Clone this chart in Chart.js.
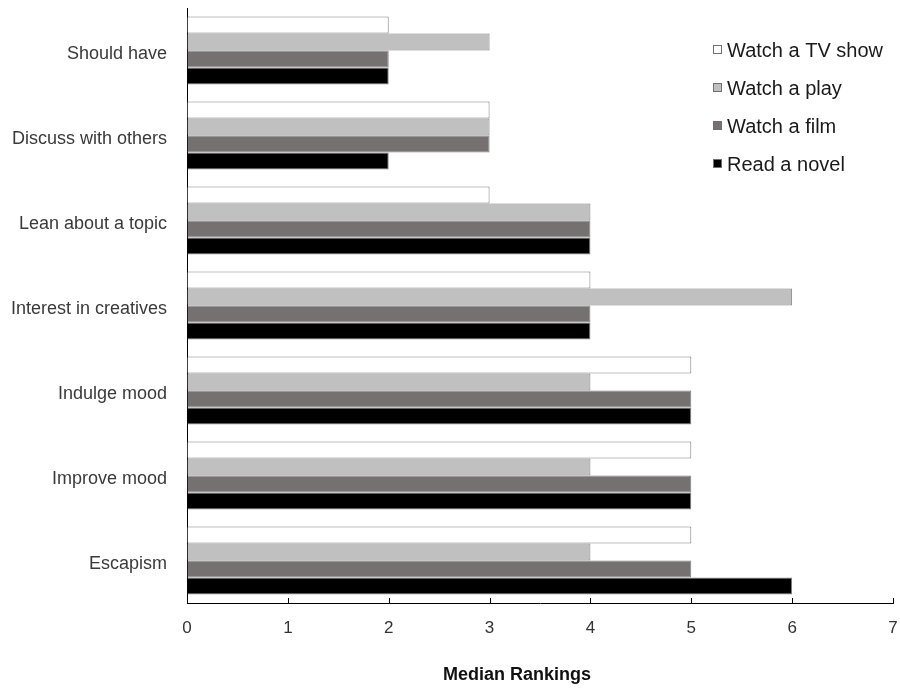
<!DOCTYPE html>
<html>
<head>
<meta charset="utf-8">
<script src="https://cdn.jsdelivr.net/npm/chart.js@4/dist/chart.umd.min.js"></script>
<style>
  html, body { margin: 0; padding: 0; background: #fff; }
  #wrap { width: 900px; height: 691px; position: relative; }
</style>
</head>
<body>
<div id="wrap"><canvas id="c" width="900" height="691"></canvas></div>
<script>
const categories = ["Should have", "Discuss with others", "Lean about a topic", "Interest in creatives", "Indulge mood", "Improve mood", "Escapism"];
const seriesNames = ["Watch a TV show", "Watch a play", "Watch a film", "Read a novel"];
const tvShow = [2, 3, 3, 4, 5, 5, 5];
const play   = [3, 3, 4, 6, 4, 4, 4];
const film   = [2, 3, 4, 4, 5, 5, 5];
const novel  = [2, 2, 4, 4, 5, 5, 6];
const xTicks = [0, 1, 2, 3, 4, 5, 6, 7];
const xTitle = "Median Rankings";

const fills = ["#ffffff", "#c0c0c0", "#757170", "#000000"];
const seriesValues = [tvShow, play, film, novel];

const FONT = "'Liberation Sans', Arial, sans-serif";

const tickMarks = {
  id: 'tickMarks',
  afterDraw(chart) {
    const ctx = chart.ctx;
    const xs = chart.scales.x;
    const y0 = chart.chartArea.bottom;
    ctx.save();
    ctx.strokeStyle = '#000';
    ctx.lineWidth = 1;
    xTicks.forEach(v => {
      const px = Math.round(xs.getPixelForValue(v)) + 0.5;
      ctx.beginPath();
      ctx.moveTo(px, y0);
      ctx.lineTo(px, y0 - 5);
      ctx.stroke();
    });
    // axis title
    ctx.font = "bold 18px " + FONT;
    ctx.fillStyle = '#111';
    ctx.textAlign = 'center';
    ctx.textBaseline = 'middle';
    ctx.fillText(xTitle, 517, 675);
    ctx.restore();
  }
};

const customLegend = {
  id: 'customLegend',
  afterDraw(chart) {
    const ctx = chart.ctx;
    ctx.save();
    ctx.font = "20px " + FONT;
    ctx.textBaseline = 'middle';
    ctx.textAlign = 'left';
    const x0 = 713, ys = [50, 88, 126, 164];
    seriesNames.forEach((n, i) => {
      ctx.fillStyle = fills[i];
      ctx.fillRect(x0, ys[i] - 5, 9, 9);
      ctx.strokeStyle = '#707070';
      ctx.lineWidth = 1;
      ctx.strokeRect(x0 + 0.5, ys[i] - 4.5, 8, 8);
      ctx.fillStyle = '#1a1a1a';
      ctx.fillText(n, x0 + 14, ys[i] + 1);
    });
    ctx.restore();
  }
};

function zeroPad(scale) {
  scale.paddingTop = 0; scale.paddingBottom = 0;
  scale.paddingLeft = 0; scale.paddingRight = 0;
}

new Chart(document.getElementById('c'), {
  type: 'bar',
  data: {
    labels: categories,
    datasets: seriesNames.map((n, i) => ({
      label: n,
      data: seriesValues[i],
      backgroundColor: fills[i],
      borderColor: '#808080',
      borderWidth: 1,
      borderSkipped: 'start',
      categoryPercentage: 0.8,
      barPercentage: 1.0
    }))
  },
  options: {
    indexAxis: 'y',
    responsive: false,
    animation: false,
    layout: { padding: { top: 8, right: 7, bottom: 0, left: 0 } },
    plugins: {
      legend: { display: false },
      tooltip: { enabled: false }
    },
    scales: {
      x: {
        min: 0, max: 7,
        afterBuildTicks(scale) { scale.ticks = xTicks.map(v => ({ value: v })); },
        grid: { display: true, drawOnChartArea: false, drawTicks: false },
        border: { display: true, color: '#000', width: 1 },
        ticks: { color: '#333', font: { family: FONT, size: 17 }, padding: 15, stepSize: 1 },
        title: { display: false },
        afterFit(scale) { scale.height = 88; zeroPad(scale); }
      },
      y: {
        grid: { display: false, drawTicks: false },
        border: { display: true, color: '#000', width: 1 },
        ticks: { color: '#3a3a3a', font: { family: FONT, size: 18 }, padding: 20, labelOffset: 4 },
        afterFit(scale) { scale.width = 187; zeroPad(scale); }
      }
    }
  },
  plugins: [tickMarks, customLegend]
});
</script>
</body>
</html>
